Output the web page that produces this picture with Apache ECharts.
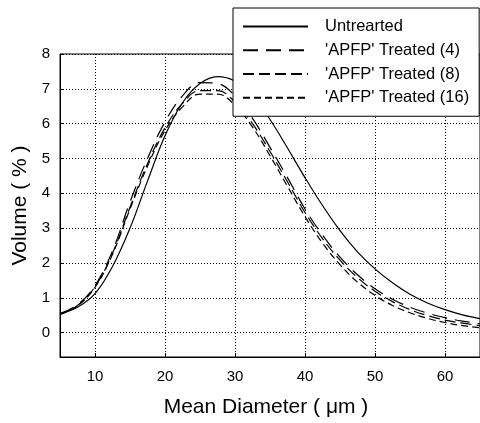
<!DOCTYPE html>
<html>
<head>
<meta charset="utf-8">
<script src="https://cdn.jsdelivr.net/npm/echarts@6/dist/echarts.min.js"></script>
<style>
html,body{margin:0;padding:0;background:#fff;}
#chart{width:480px;height:423px;}
</style>
</head>
<body>
<div id="chart"></div>
<script>
var diameters = [5, 7.5, 10, 12.5, 15, 17.5, 20, 22.5, 25, 27.5, 30, 32.5, 35, 37.5, 40, 42.5, 45, 47.5, 50, 52.5, 55, 57.5, 60, 62.5, 65];
var untreated = [0.55, 0.73, 1.12, 1.9, 3.0, 4.35, 5.65, 6.6, 7.15, 7.35, 7.22, 6.8, 6.12, 5.3, 4.45, 3.65, 2.93, 2.32, 1.83, 1.43, 1.1, 0.85, 0.66, 0.51, 0.4];
var treated4 = [0.55, 0.8, 1.35, 2.35, 3.75, 5.0, 6.05, 6.8, 7.18, 7.15, 6.8, 6.15, 5.32, 4.45, 3.55, 2.8, 2.17, 1.66, 1.26, 0.96, 0.73, 0.56, 0.43, 0.33, 0.26];
var treated8 = [0.53, 0.78, 1.32, 2.28, 3.6, 4.85, 5.88, 6.58, 6.95, 6.95, 6.62, 6.0, 5.2, 4.33, 3.45, 2.7, 2.08, 1.58, 1.19, 0.89, 0.66, 0.49, 0.36, 0.27, 0.2];
var treated16 = [0.52, 0.77, 1.3, 2.25, 3.55, 4.78, 5.8, 6.48, 6.85, 6.85, 6.52, 5.9, 5.08, 4.2, 3.33, 2.57, 1.95, 1.45, 1.07, 0.78, 0.57, 0.41, 0.29, 0.2, 0.14];
var seriesNames = ["Untrearted", "'APFP' Treated (4)", "'APFP' Treated (8)", "'APFP' Treated (16)"];
var xTitle = "Mean Diameter ( \u03bcm )";
var yTitle = "Volume ( % )";

function pairs(ys) { return diameters.map(function (x, i) { return [x, ys[i]]; }); }

var FONT = "'Liberation Sans', Arial, sans-serif";
var dashes = ['solid', [15, 8], [11, 5], [7, 4]];
var allData = [untreated, treated4, treated8, treated16];

var chart = echarts.init(document.getElementById('chart'), null, {renderer: 'canvas'});
chart.setOption({
  animation: false,
  backgroundColor: '#fff',
  grid: {left: 60, top: 54, width: 423.6, height: 304.5, show: true, borderColor: '#000', borderWidth: 1, backgroundColor: 'transparent'},
  legend: {
    left: 233, top: 8, orient: 'vertical',
    backgroundColor: '#fff', borderColor: '#000', borderWidth: 1, borderRadius: 0,
    padding: [10, 10, 10, 9],
    itemWidth: 65, itemHeight: 14, itemGap: 6.75,
    itemStyle: {color: 'transparent', borderWidth: 0, opacity: 0},
    textStyle: {fontFamily: FONT, fontSize: 16.5, color: '#000', lineHeight: 14, padding: [0, 0, 0, 12]},
    data: seriesNames
  },
  xAxis: {
    type: 'value', min: 5, max: 65, splitNumber: 6, minInterval: 10, maxInterval: 10,
    name: xTitle, nameLocation: 'middle', nameGap: 40,
    nameTextStyle: {fontFamily: FONT, fontSize: 21, color: '#000', padding: [0, 8, 0, 0]},
    axisLine: {onZero: false, lineStyle: {color: '#000', width: 1}},
    axisTick: {inside: true, length: 4, lineStyle: {color: '#000'}},
    axisLabel: {fontFamily: FONT, fontSize: 15, color: '#000', margin: 12, showMinLabel: false, showMaxLabel: false},
    splitLine: {show: true, lineStyle: {color: '#000', width: 1, type: [1, 2]}}
  },
  yAxis: {
    type: 'value', min: -0.7, max: 8, splitNumber: 9, minInterval: 1, maxInterval: 1,
    name: yTitle, nameLocation: 'middle', nameGap: 29, nameRotate: 90,
    nameTextStyle: {fontFamily: FONT, fontSize: 21, color: '#000'},
    axisLine: {onZero: false, lineStyle: {color: '#000', width: 1}},
    axisTick: {inside: true, length: 4, lineStyle: {color: '#000'}},
    axisLabel: {fontFamily: FONT, fontSize: 15, color: '#000', margin: 10, showMinLabel: false},
    splitLine: {show: true, lineStyle: {color: '#000', width: 1, type: [1, 2]}}
  },
  series: seriesNames.map(function (name, i) {
    return {
      name: name, type: 'line', smooth: 0.4, symbol: 'none', clip: true,
      data: pairs(allData[i]),
      lineStyle: {color: '#000', width: 1.2, type: dashes[i]},
      itemStyle: {color: '#000'}
    };
  })
});
</script>
</body>
</html>
